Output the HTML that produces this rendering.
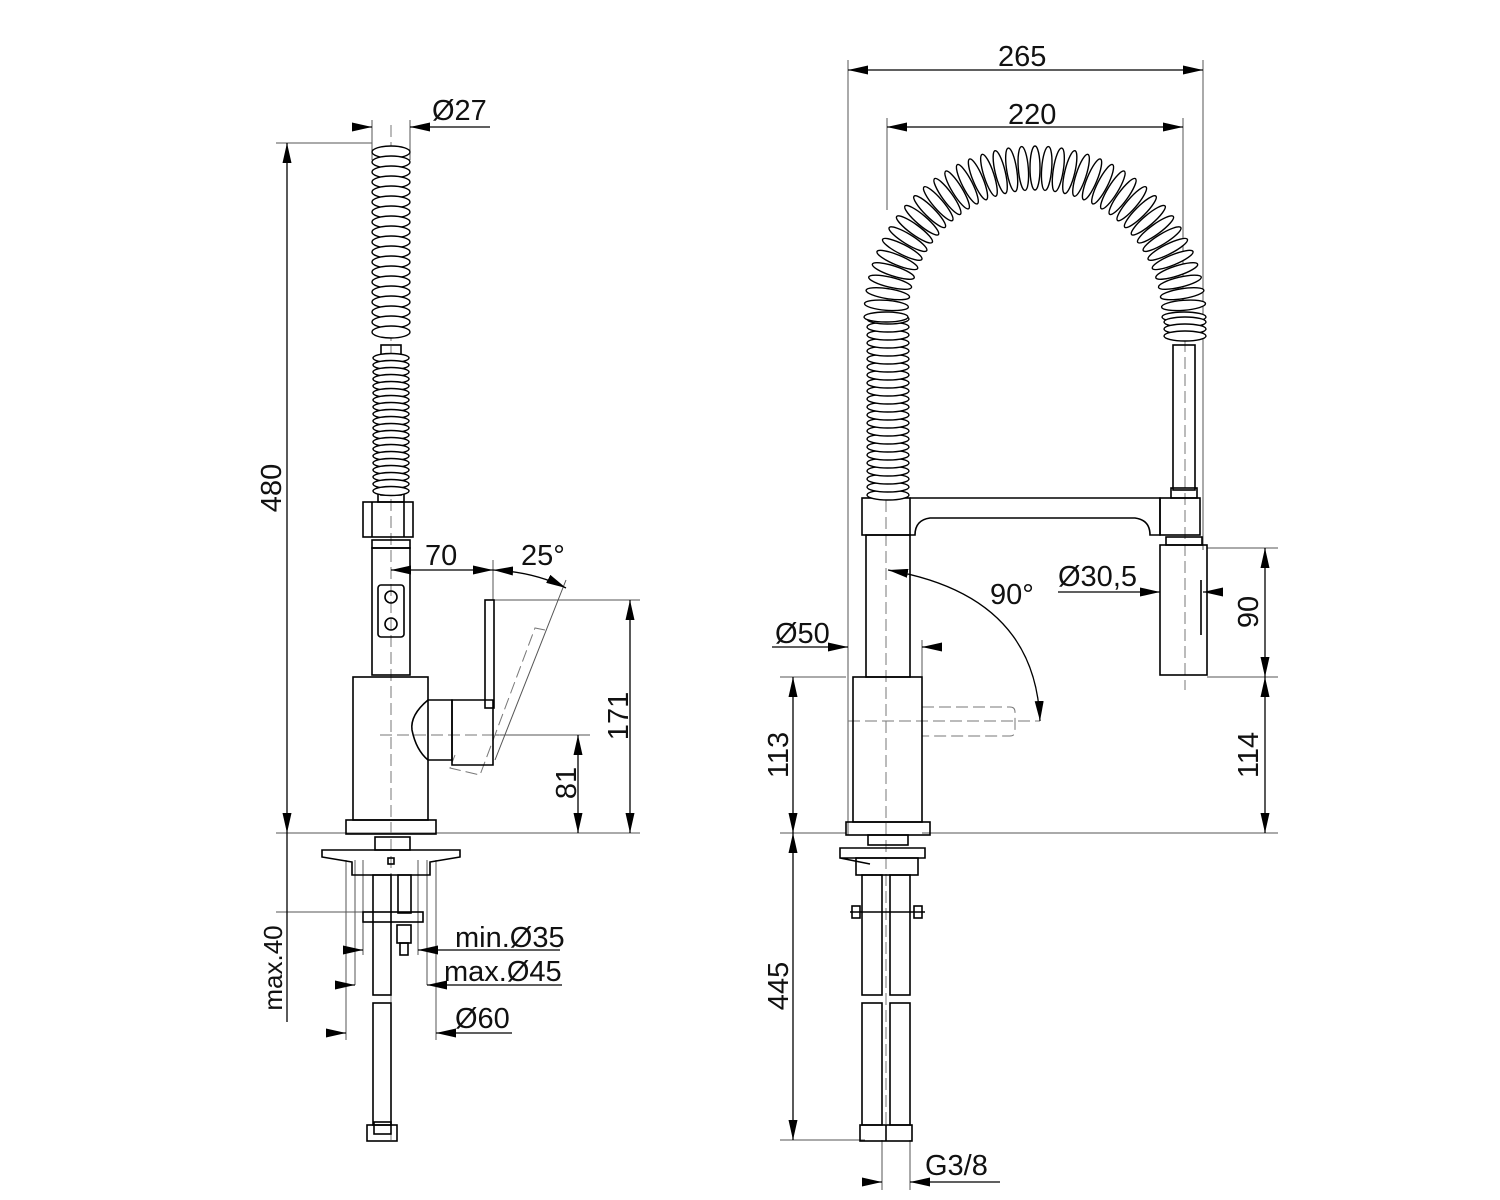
<!DOCTYPE html>
<html><head><meta charset="utf-8"><style>
html,body{margin:0;padding:0;background:#fff}
svg{display:block}
text{font-family:"Liberation Sans",sans-serif;font-size:29px;fill:#111}
</style></head><body>
<svg id="s" width="1500" height="1200" viewBox="0 0 1500 1200" xmlns="http://www.w3.org/2000/svg">
<defs>
<marker id="a" viewBox="0 0 20 9" refX="20" refY="4.5" markerWidth="20" markerHeight="9" markerUnits="userSpaceOnUse" orient="auto-start-reverse"><path d="M0,0 L20,4.5 L0,9 z" fill="#000"/></marker>
</defs>
<g id="thin" stroke="#555" stroke-width="1" fill="none">
<line x1="276" y1="143" x2="372" y2="143"/>
<line x1="276" y1="833" x2="640" y2="833"/>
<line x1="276" y1="912" x2="422" y2="912"/>
<line x1="372" y1="120" x2="372" y2="160"/><line x1="410" y1="120" x2="410" y2="160"/>
<line x1="493" y1="560" x2="493" y2="600"/>
<line x1="493" y1="600" x2="640" y2="600"/>
<line x1="495" y1="735" x2="590" y2="735"/>
<line x1="355" y1="860" x2="355" y2="985"/><line x1="427" y1="860" x2="427" y2="985"/>
<line x1="346" y1="860" x2="346" y2="1040"/><line x1="436" y1="860" x2="436" y2="1040"/>
<line x1="363" y1="860" x2="363" y2="955"/><line x1="418" y1="860" x2="418" y2="955"/>
<line x1="566" y1="580" x2="495" y2="760"/>
<line x1="848" y1="60" x2="848" y2="835"/><line x1="1203" y1="60" x2="1203" y2="550"/>
<line x1="887" y1="118" x2="887" y2="210"/><line x1="1183" y1="118" x2="1183" y2="300"/>
<line x1="1207" y1="548" x2="1278" y2="548"/>
<line x1="1207" y1="677" x2="1278" y2="677"/>
<line x1="780" y1="677" x2="846" y2="677"/>
<line x1="922" y1="833" x2="1278" y2="833"/>
<line x1="780" y1="833" x2="846" y2="833"/>
<line x1="780" y1="1140" x2="865" y2="1140"/>
<line x1="922" y1="640" x2="922" y2="677"/>
<line x1="882" y1="1140" x2="882" y2="1190"/><line x1="910" y1="1140" x2="910" y2="1190"/>
</g>
<g stroke="#777" stroke-width="1" stroke-dasharray="12,5" fill="none">
<line x1="391" y1="125" x2="391" y2="1140"/>
<line x1="380" y1="735" x2="500" y2="735"/>
<line x1="886" y1="500" x2="886" y2="1140"/>
<line x1="1185" y1="340" x2="1185" y2="690"/>
<line x1="848" y1="721" x2="1040" y2="721"/>
<path d="M922,707 H1010 Q1015,707 1015,712 V731 Q1015,736 1010,736 H922"/>
<path d="M545,630 L535,628 L480,775 L450,768 L455,755"/>
</g>
<g stroke="#000" stroke-width="1.3" fill="none">
<line x1="287" y1="143" x2="287" y2="833" marker-start="url(#a)" marker-end="url(#a)"/>
<line x1="287" y1="833" x2="287" y2="912"/>
<line x1="287" y1="912" x2="287" y2="1022"/>
<line x1="352" y1="127" x2="372" y2="127" marker-end="url(#a)"/>
<line x1="490" y1="127" x2="410" y2="127" marker-end="url(#a)"/>
<line x1="391" y1="570" x2="493" y2="570" marker-start="url(#a)" marker-end="url(#a)"/>
<path d="M493,570 Q535,572 566,588" marker-start="url(#a)" marker-end="url(#a)"/>
<line x1="630" y1="600" x2="630" y2="833" marker-start="url(#a)" marker-end="url(#a)"/>
<line x1="578" y1="735" x2="578" y2="833" marker-start="url(#a)" marker-end="url(#a)"/>
<line x1="343" y1="950" x2="363" y2="950" marker-end="url(#a)"/>
<line x1="560" y1="950" x2="418" y2="950" marker-end="url(#a)"/>
<line x1="335" y1="985" x2="355" y2="985" marker-end="url(#a)"/>
<line x1="562" y1="985" x2="427" y2="985" marker-end="url(#a)"/>
<line x1="326" y1="1033" x2="346" y2="1033" marker-end="url(#a)"/>
<line x1="512" y1="1033" x2="436" y2="1033" marker-end="url(#a)"/>
<line x1="848" y1="70" x2="1203" y2="70" marker-start="url(#a)" marker-end="url(#a)"/>
<line x1="887" y1="127" x2="1183" y2="127" marker-start="url(#a)" marker-end="url(#a)"/>
<line x1="772" y1="647" x2="848" y2="647" marker-end="url(#a)"/>
<line x1="942" y1="647" x2="922" y2="647" marker-end="url(#a)"/>
<line x1="1058" y1="592" x2="1160" y2="592" marker-end="url(#a)"/>
<line x1="1222" y1="592" x2="1203" y2="592" marker-end="url(#a)"/>
<line x1="1265" y1="548" x2="1265" y2="677" marker-start="url(#a)" marker-end="url(#a)"/>
<line x1="1265" y1="677" x2="1265" y2="833" marker-start="url(#a)" marker-end="url(#a)"/>
<line x1="793" y1="677" x2="793" y2="833" marker-start="url(#a)" marker-end="url(#a)"/>
<line x1="793" y1="833" x2="793" y2="1140" marker-start="url(#a)" marker-end="url(#a)"/>
<path d="M888,570 Q1035,595 1040,721" marker-start="url(#a)" marker-end="url(#a)"/>
<line x1="862" y1="1182" x2="882" y2="1182" marker-end="url(#a)"/>
<line x1="1000" y1="1182" x2="910" y2="1182" marker-end="url(#a)"/>
</g>
<g id="parts" stroke="#000" stroke-width="1.6" fill="none">
<rect x="381" y="345" width="20" height="150"/>
<rect x="363" y="502" width="50" height="35"/>
<line x1="372" y1="502" x2="372" y2="537"/><line x1="404" y1="502" x2="404" y2="537"/>
<rect x="378" y="490" width="26" height="12"/>
<rect x="372" y="540" width="38" height="8"/>
<rect x="372" y="548" width="38" height="127"/>
<rect x="378" y="585" width="26" height="52" rx="3"/>
<circle cx="391" cy="597" r="6"/><circle cx="391" cy="624" r="6"/>
<rect x="353" y="677" width="75" height="143"/>
<path d="M428,700 Q410,715 412,730 Q416,750 428,760"/>
<path d="M428,700 H452 V760 H428"/>
<path d="M452,700 H493 V765 H452 Z"/>
<rect x="485" y="600" width="9" height="108"/>
<rect x="346" y="820" width="90" height="14"/>
<path d="M322,850 H460 V857 L430,862 V875 H352 V862 L322,857 Z"/>
<rect x="375" y="837" width="35" height="13"/>
<rect x="388" y="858" width="6" height="6"/>
<rect x="373" y="875" width="18" height="120"/>
<rect x="398" y="875" width="13" height="38"/>
<rect x="363" y="912" width="60" height="10"/>
<rect x="397" y="925" width="14" height="18"/><rect x="400" y="943" width="8" height="12"/>
<rect x="373" y="1003" width="18" height="122"/>
<rect x="374" y="1122" width="17" height="12"/>
<rect x="367" y="1125" width="30" height="16"/>
<rect x="862" y="498" width="48" height="37"/>
<path d="M910,498 H1160 V535 H1150 Q1150,520 1135,518 H930 Q915,520 915,535 H910"/>
<rect x="1160" y="498" width="40" height="37"/>
<rect x="1173" y="345" width="22" height="145"/>
<rect x="1171" y="488" width="26" height="10"/>
<rect x="1166" y="537" width="36" height="8"/>
<rect x="1160" y="545" width="47" height="130"/>
<line x1="1201" y1="580" x2="1201" y2="635"/>
<rect x="866" y="535" width="44" height="142"/>
<rect x="853" y="677" width="69" height="145"/>
<rect x="846" y="822" width="84" height="13"/>
<rect x="868" y="835" width="40" height="10"/>
<path d="M840,848 H925 V858 H840 Z M840,858 L870,864"/>
<rect x="856" y="858" width="62" height="17"/>
<rect x="862" y="875" width="20" height="120"/><rect x="890" y="875" width="20" height="120"/>
<line x1="850" y1="912" x2="925" y2="912"/>
<rect x="852" y="906" width="8" height="12"/><rect x="914" y="906" width="8" height="12"/>
<rect x="862" y="1003" width="20" height="122"/><rect x="890" y="1003" width="20" height="122"/>
<rect x="860" y="1125" width="52" height="16"/>
<line x1="886" y1="1125" x2="886" y2="1141"/>
</g>
<g id="coils" stroke="#000" stroke-width="1.4" fill="#fff"></g>
<text x="432" y="120">Ø27</text>
<text x="425" y="565">70</text>
<text x="521" y="565">25°</text>
<text x="455" y="947">min.Ø35</text>
<text x="444" y="981">max.Ø45</text>
<text x="455" y="1028">Ø60</text>
<text transform="translate(281,488) rotate(-90)" text-anchor="middle">480</text>
<text transform="translate(282,968) rotate(-90)" text-anchor="middle" style="font-size:26px">max.40</text>
<text transform="translate(628,716) rotate(-90)" text-anchor="middle">171</text>
<text transform="translate(576,783) rotate(-90)" text-anchor="middle">81</text>
<text x="998" y="66">265</text>
<text x="1008" y="124">220</text>
<text x="990" y="604">90°</text>
<text x="775" y="643">Ø50</text>
<text x="1058" y="586">Ø30,5</text>
<text x="925" y="1175">G3/8</text>
<text transform="translate(1258,612) rotate(-90)" text-anchor="middle">90</text>
<text transform="translate(1258,755) rotate(-90)" text-anchor="middle">114</text>
<text transform="translate(788,755) rotate(-90)" text-anchor="middle">113</text>
<text transform="translate(788,986) rotate(-90)" text-anchor="middle">445</text>
</svg>
<script>
var g=document.getElementById('coils'),NS='http://www.w3.org/2000/svg';
function el(cx,cy,rx,ry,rot){var e=document.createElementNS(NS,'ellipse');e.setAttribute('cx',cx);e.setAttribute('cy',cy);e.setAttribute('rx',rx);e.setAttribute('ry',ry);if(rot)e.setAttribute('transform','rotate('+rot+' '+cx+' '+cy+')');g.appendChild(e);}
for(var y=152;y<=340;y+=10)el(391,y,19,6);
for(var y=358;y<=492;y+=7)el(391,y,18,4.5);
for(var y=495;y>=317;y-=8)el(888,y,21,5);
var cx=1035,cy=317,r=149;
for(var t=180;t>=0;t-=4.5){var a=t*Math.PI/180;var x=cx+r*Math.cos(a),y=cy-r*Math.sin(a);el(x,y,22,5,180-t);}
for(var y=322;y<=342;y+=7)el(1185,y,21,5);
</script>
</body></html>
